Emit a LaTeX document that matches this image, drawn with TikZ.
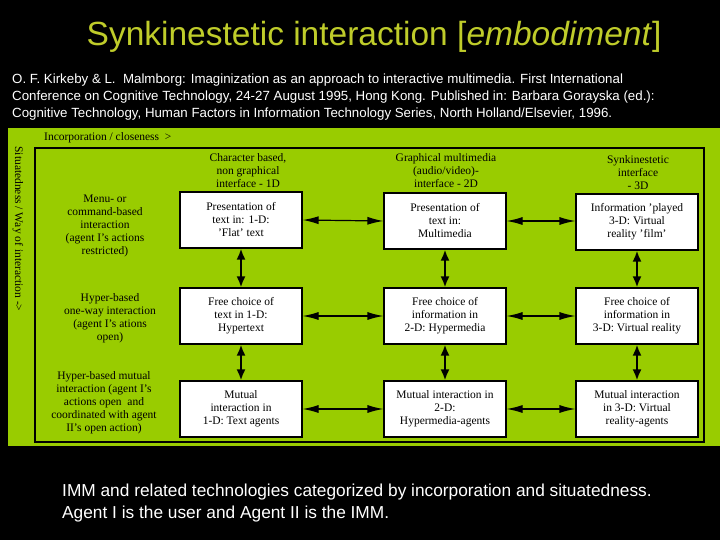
\documentclass[tikz,border=0pt]{standalone}
\usepackage{fontspec}
\usetikzlibrary{arrows.meta}
\setmainfont{Liberation Serif}
\newfontfamily\arialf{Liberation Sans}
\definecolor{lime}{HTML}{99CC00}
\definecolor{ttl}{HTML}{BFCC2A}
\begin{document}
\begin{tikzpicture}[x=1pt,y=-1pt,
  bx/.style={draw=black,fill=white,line width=1.2pt,minimum width=122pt,minimum height=56pt,align=center,font=\fontsize{11.5}{13}\selectfont,inner sep=1pt},
  lb/.style={align=center,font=\fontsize{11.5}{13}\selectfont},
  dar/.style={line width=2pt,{Latex[length=11pt,width=9pt]}-{Latex[length=11pt,width=9pt]}},
  har/.style={line width=1.2pt,{Latex[length=16pt,width=8pt]}-{Latex[length=16pt,width=8pt]}}]
\useasboundingbox (0,0) rectangle (720,540);
\fill[black] (0,0) rectangle (720,540);
\fill[lime] (8,128) rectangle (720,446);
\node[font=\arialf\fontsize{33.5}{38}\selectfont,text=ttl] (title) at (374,37) {Synkinestetic interaction [\textit{embodiment}]};
\node[anchor=north west,align=left,text=white,font=\arialf\fontsize{13.3}{17}\selectfont,inner sep=0] (cite) at (12,74) {O. F. Kirkeby \& L.\ \ Malmborg: Imaginization as an approach to interactive multimedia. First International\\Conference on Cognitive Technology, 24-27 August 1995, Hong Kong. Published in: Barbara Gorayska (ed.):\\Cognitive Technology, Human Factors in Information Technology Series, North Holland/Elsevier, 1996.};
\node[anchor=west,font=\fontsize{11.5}{13}\selectfont,inner sep=0] (inc) at (44,138) {Incorporation / closeness\ \ >};
\node[draw=black,line width=1.2pt,minimum width=669pt,minimum height=294pt,inner sep=0] (frame) at (369.5,295) {};
\node[rotate=-90,font=\fontsize{11.5}{13}\selectfont] (sit) at (18,229) {Situatedness / Way of interaction ->};
% headers
\node[lb] (h1) at (248,171) {Character based,\\non graphical\\interface - 1D};
\node[lb] (h2) at (446,171) {Graphical multimedia\\(audio/video)-\\interface - 2D};
\node[lb] (h3) at (638,173) {Synkinestetic\\interface\\- 3D};
% row labels
\node[lb] (r1) at (105,226) {Menu- or\\command-based\\interaction\\(agent I's actions\\restricted)};
\node[lb] (r2) at (110,318) {Hyper-based\\one-way interaction\\(agent I's ations\\open)};
\node[lb] (r3) at (104,403) {Hyper-based mutual\\interaction (agent I's\\actions open\ \ and\\coordinated with agent\\II's open action)};
% boxes
\node[bx] (a1) at (241,220) {Presentation of\\text in: 1-D:\\'Flat' text};
\node[bx] (a2) at (241,316) {Free choice of\\text in 1-D:\\Hypertext};
\node[bx] (a3) at (241,409) {Mutual\\interaction in\\1-D: Text agents};
\node[bx] (b1) at (445,221) {Presentation of\\text in:\\Multimedia};
\node[bx] (b2) at (445,316) {Free choice of\\information in\\2-D: Hypermedia};
\node[bx] (b3) at (445,409) {Mutual interaction in\\2-D:\\Hypermedia-agents};
\node[bx] (c1) at (637,222) {Information 'played\\3-D: Virtual\\reality 'film'};
\node[bx] (c2) at (637,316) {Free choice of\\information in\\3-D: Virtual reality};
\node[bx] (c3) at (637,409) {Mutual interaction\\in 3-D: Virtual\\reality-agents};
\foreach \u/\v in {a1/a2,a2/a3,b1/b2,b2/b3,c1/c2,c2/c3} \draw[dar] (\u) -- (\v);
\draw[har] (a1.east) -- (b1.west);
\draw[har] (a2.east) -- (b2.west);
\draw[har] (a3.east) -- (b3.west);
\draw[har] (b1.east) -- (c1.west|-b1.east);
\draw[har] (b2.east) -- (c2.west);
\draw[har] (b3.east) -- (c3.west);
\node[anchor=north west,align=left,text=white,font=\arialf\fontsize{17.3}{22}\selectfont,inner sep=0] (cap) at (62,484) {IMM and related technologies categorized by incorporation and situatedness.\\Agent I is the user and Agent II is the IMM.};
\end{tikzpicture}
\end{document}
